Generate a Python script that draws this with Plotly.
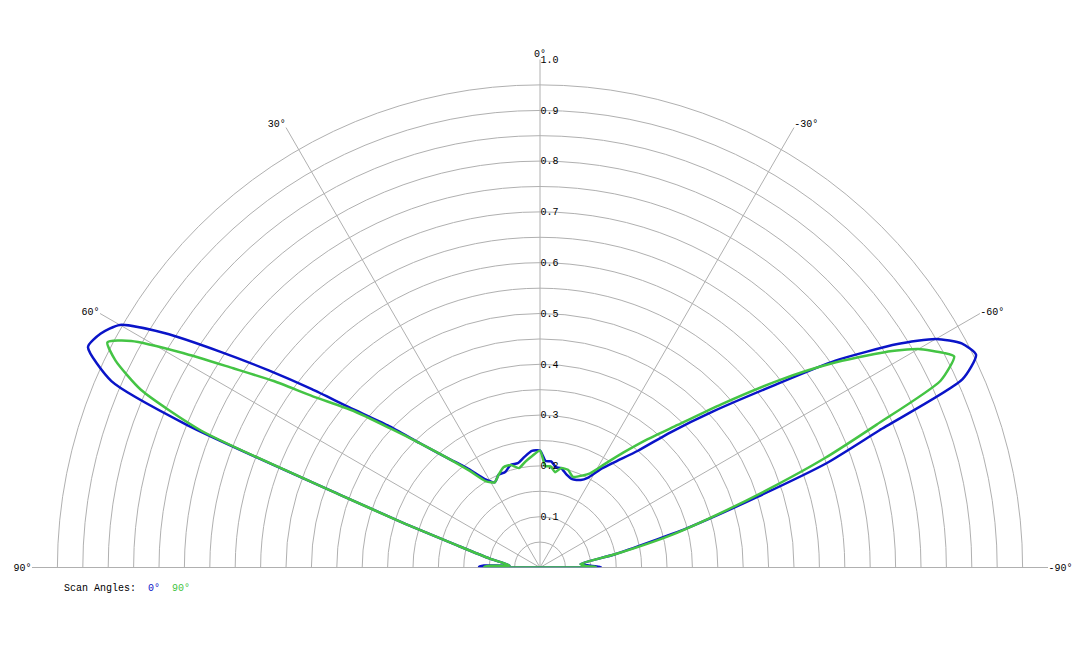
import plotly.graph_objects as go

theta_blue = [90, 89.5, 88, 86, 80, 75, 72, 70, 68, 66.5, 64, 62, 60, 58, 56, 54, 52, 50, 47, 44, 40, 36, 32, 28, 24, 20, 16, 12, 8, 4, 0,
              -3, -6, -9, -12, -16, -20, -25, -28, -32, -36, -40, -44, -48, -52, -55, -58, -60, -62, -64, -66, -68, -70, -72, -75, -80, -85, -88, -89.5, -90]
r_blue = [0.0, 0.12, 0.11, 0.06, 0.1, 0.17, 0.28, 0.42, 0.75, 0.92, 0.99, 0.98, 0.955, 0.87, 0.76, 0.66, 0.57, 0.49, 0.41, 0.34, 0.28, 0.24, 0.205, 0.19, 0.2, 0.2, 0.21, 0.21, 0.22, 0.23, 0.23,
          0.21, 0.21, 0.2, 0.2, 0.19, 0.185, 0.19, 0.2, 0.23, 0.26, 0.3, 0.37, 0.46, 0.58, 0.71, 0.83, 0.9, 0.94, 0.955, 0.91, 0.72, 0.6, 0.45, 0.3, 0.15, 0.08, 0.1, 0.12, 0.0]

theta_green = [90, 89.5, 88, 86, 80, 75, 72, 70, 68, 66, 64, 62.5, 61, 59, 57, 55, 53, 50, 47, 44, 40, 36, 32, 28, 24, 20, 16, 12, 8, 4, 0,
               -3, -6, -9, -12, -16, -20, -25, -28, -32, -36, -40, -44, -48, -52, -55, -58, -60, -62, -63, -65, -67, -69, -71, -73, -76, -80, -85, -88, -89.5, -90]
r_green = [0.0, 0.11, 0.1, 0.06, 0.1, 0.17, 0.28, 0.42, 0.72, 0.86, 0.93, 0.96, 0.92, 0.82, 0.72, 0.64, 0.56, 0.48, 0.4, 0.34, 0.28, 0.235, 0.2, 0.19, 0.2, 0.21, 0.21, 0.2, 0.21, 0.22, 0.23,
           0.2, 0.2, 0.19, 0.2, 0.2, 0.19, 0.2, 0.21, 0.24, 0.28, 0.33, 0.39, 0.48, 0.6, 0.7, 0.8, 0.86, 0.9, 0.915, 0.87, 0.72, 0.6, 0.48, 0.38, 0.27, 0.15, 0.08, 0.09, 0.11, 0.0]

angle_ticks = [90, 60, 30, 0, -30, -60, -90]
angle_labels = ["90°", "60°", "30°", "0°", "-30°", "-60°", "-90°"]
radial_ticks = [round(0.05 * i, 2) for i in range(1, 21)]
radial_labels = [("%.1f" % v) if i % 2 == 1 else "" for i, v in enumerate(radial_ticks)]

font = "Liberation Mono"

fig = go.Figure()
fig.add_trace(go.Scatterpolar(theta=theta_blue, r=r_blue, mode="lines",
                              line=dict(color="#0a14c8", width=2.5, shape="spline", smoothing=0.6), name="0°"))
fig.add_trace(go.Scatterpolar(theta=theta_green, r=r_green, mode="lines",
                              line=dict(color="#44c444", width=2.5, shape="spline", smoothing=0.6), name="90°"))

fig.update_layout(
    width=1080, height=648,
    paper_bgcolor="white",
    showlegend=False,
    margin=dict(l=24, r=40, t=38, b=75),
    font=dict(family=font, size=10, color="black"),
    polar=dict(
        bgcolor="white",
        sector=[0, 180],
        angularaxis=dict(rotation=90, direction="counterclockwise",
                         tickvals=angle_ticks, ticktext=angle_labels,
                         showline=False, gridcolor="#b0b0b0", gridwidth=1,
                         ticks="", tickfont=dict(family=font, size=10)),
        radialaxis=dict(range=[0, 1], angle=90, tickangle=90,
                        tickvals=radial_ticks, ticktext=radial_labels,
                        showline=False, gridcolor="#b0b0b0", gridwidth=1,
                        ticks="", tickfont=dict(family=font, size=10)),
    ),
    annotations=[
        dict(xref="paper", yref="paper", x=0.03, y=-0.0, xanchor="left", yanchor="top",
             showarrow=False,
             text="Scan Angles:  <span style='color:#0a14c8'>0°</span>  <span style='color:#44c444'>90°</span>",
             font=dict(family=font, size=10))
    ],
)

fig.write_html("out.html")
